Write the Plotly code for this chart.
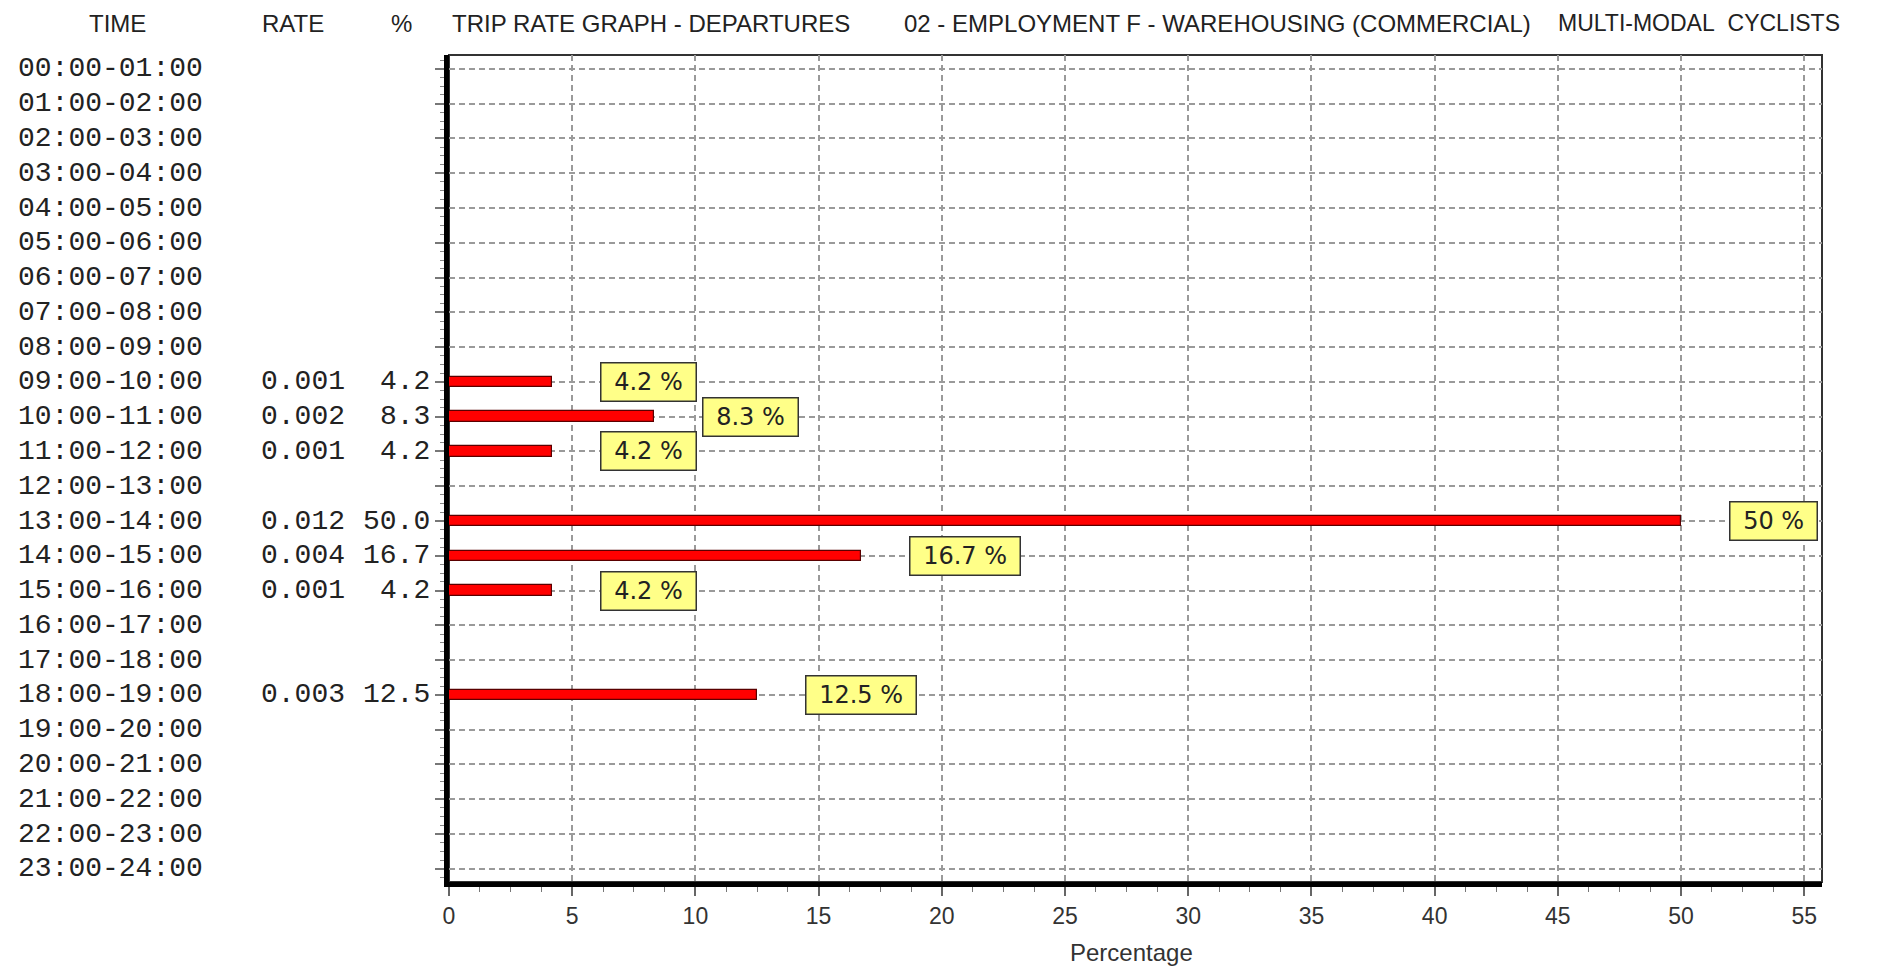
import plotly.graph_objects as go

# ---------------- data ----------------
time_labels = [
    "00:00-01:00", "01:00-02:00", "02:00-03:00", "03:00-04:00", "04:00-05:00",
    "05:00-06:00", "06:00-07:00", "07:00-08:00", "08:00-09:00", "09:00-10:00",
    "10:00-11:00", "11:00-12:00", "12:00-13:00", "13:00-14:00", "14:00-15:00",
    "15:00-16:00", "16:00-17:00", "17:00-18:00", "18:00-19:00", "19:00-20:00",
    "20:00-21:00", "21:00-22:00", "22:00-23:00", "23:00-24:00",
]
rates = [None, None, None, None, None, None, None, None, None, 0.001,
         0.002, 0.001, None, 0.012, 0.004, 0.001, None, None, 0.003, None,
         None, None, None, None]
percents = [None, None, None, None, None, None, None, None, None, 4.2,
            8.3, 4.2, None, 50.0, 16.7, 4.2, None, None, 12.5, None,
            None, None, None, None]
x_ticks = [0, 5, 10, 15, 20, 25, 30, 35, 40, 45, 50, 55]
header_time = "TIME"
header_rate = "RATE"
header_pct = "%"
title_parts = ["TRIP RATE GRAPH - DEPARTURES",
               "02 - EMPLOYMENT F - WAREHOUSING (COMMERCIAL)",
               "MULTI-MODAL\u00a0\u00a0CYCLISTS"]
x_title = "Percentage"

# ---------------- layout geometry ----------------
W, H = 1890, 968
L, R, T, B = 449, 1890 - 1822, 55, 968 - 882
PW = W - L - R
PH = H - T - B


def px_to_paper_x(px):
    return (px - L) / PW


def px_to_paper_y(py):
    return 1 + (T - py) / PH


rows = list(range(len(time_labels)))
bar_y = [i for i, p in zip(rows, percents) if p is not None]
bar_x = [p for p in percents if p is not None]

fig = go.Figure()
fig.add_trace(go.Bar(
    x=bar_x, y=bar_y, orientation="h", width=0.3,
    marker=dict(color="#ff0000", line=dict(color="#5a0000", width=1.2)),
    hoverinfo="skip",
))

sans = "Liberation Sans, Arial, sans-serif"
mono = "Liberation Mono, DejaVu Sans Mono, monospace"
txt = "#222222"

annotations = []
# row labels
for i, t in enumerate(time_labels):
    annotations.append(dict(
        x=px_to_paper_x(16), xref="paper", y=i, yref="y", text=t,
        xanchor="left", yanchor="middle", showarrow=False,
        font=dict(family=mono, size=28, color=txt)))
    if rates[i] is not None:
        annotations.append(dict(
            x=px_to_paper_x(259), xref="paper", y=i, yref="y",
            text=f"{rates[i]:.3f}", xanchor="left", yanchor="middle",
            showarrow=False, font=dict(family=mono, size=28, color=txt)))
    if percents[i] is not None:
        annotations.append(dict(
            x=px_to_paper_x(432), xref="paper", y=i, yref="y",
            text=f"{percents[i]:.1f}", xanchor="right", yanchor="middle",
            showarrow=False, font=dict(family=mono, size=28, color=txt)))

# value boxes
for i, p in enumerate(percents):
    if p is None:
        continue
    annotations.append(dict(
        x=p, xref="x", y=i, yref="y", text=f"\u00a0{p:g} %\u00a0",
        xanchor="left", yanchor="middle", xshift=48, showarrow=False,
        bgcolor="#ffff88", bordercolor="#333333", borderwidth=1.5, borderpad=5,
        height=27,
        font=dict(family="DejaVu Sans, sans-serif", size=24, color=txt)))

# headers
hy = px_to_paper_y(23)
annotations += [
    dict(x=px_to_paper_x(117), xref="paper", y=hy, yref="paper", text=header_time,
         xanchor="center", yanchor="middle", showarrow=False,
         font=dict(family=sans, size=24, color=txt)),
    dict(x=px_to_paper_x(293), xref="paper", y=hy, yref="paper", text=header_rate,
         xanchor="center", yanchor="middle", showarrow=False,
         font=dict(family=sans, size=24, color=txt)),
    dict(x=px_to_paper_x(401), xref="paper", y=hy, yref="paper", text=header_pct,
         xanchor="center", yanchor="middle", showarrow=False,
         font=dict(family=sans, size=24, color=txt)),
    dict(x=px_to_paper_x(450), xref="paper", y=hy, yref="paper", text=title_parts[0],
         xanchor="left", yanchor="middle", showarrow=False,
         font=dict(family=sans, size=24, color=txt)),
    dict(x=px_to_paper_x(1533), xref="paper", y=hy, yref="paper", text=title_parts[1],
         xanchor="right", yanchor="middle", showarrow=False,
         font=dict(family=sans, size=24, color=txt)),
    dict(x=px_to_paper_x(1842), xref="paper", y=hy, yref="paper", text=title_parts[2],
         xanchor="right", yanchor="middle", showarrow=False,
         font=dict(family=sans, size=23, color=txt)),
    dict(x=px_to_paper_x(1131), xref="paper", y=px_to_paper_y(952), yref="paper",
         text=x_title, xanchor="center", yanchor="middle", showarrow=False,
         font=dict(family=sans, size=24, color="#333333")),
]

fig.update_layout(
    width=W, height=H,
    margin=dict(l=L, r=R, t=T, b=B, pad=0, autoexpand=False),
    paper_bgcolor="white", plot_bgcolor="white",
    showlegend=False,
    annotations=annotations,
    bargap=0,
    shapes=[dict(type="rect", xref="paper", yref="paper", x0=0, x1=1, y0=0, y1=1,
                 line=dict(color="#333333", width=2), layer="below")],
)

fig.update_xaxes(
    range=[0, 55.72], tickmode="array", tickvals=x_ticks,
    ticks="outside", ticklen=9, tickwidth=1.5, tickcolor="#666666",
    minor=dict(dtick=1.25, tick0=0, ticks="outside", ticklen=5, tickwidth=1.2,
               tickcolor="#777777", showgrid=False),
    showgrid=True, gridcolor="#9a9a9a", gridwidth=1.5, griddash="6px,4px",
    showline=True, linecolor="black", linewidth=5, zeroline=False,
    tickfont=dict(family=sans, size=23, color="#333333"),
    automargin=False, fixedrange=True,
)
fig.update_yaxes(
    range=[23.38, -0.4], tickmode="linear", tick0=0, dtick=1,
    showticklabels=False, ticks="outside", ticklen=9, tickwidth=1.5,
    tickcolor="#777777",
    minor=dict(dtick=0.25, tick0=0, ticks="outside", ticklen=4, tickwidth=1.2,
               tickcolor="#888888", showgrid=False),
    showgrid=True, gridcolor="#9a9a9a", gridwidth=1.5, griddash="6px,4px",
    showline=True, linecolor="black", linewidth=5, zeroline=False,
    automargin=False, fixedrange=True,
)

fig.write_html("out.html", config={"displayModeBar": False},
               post_script="document.body.style.margin='0';")
